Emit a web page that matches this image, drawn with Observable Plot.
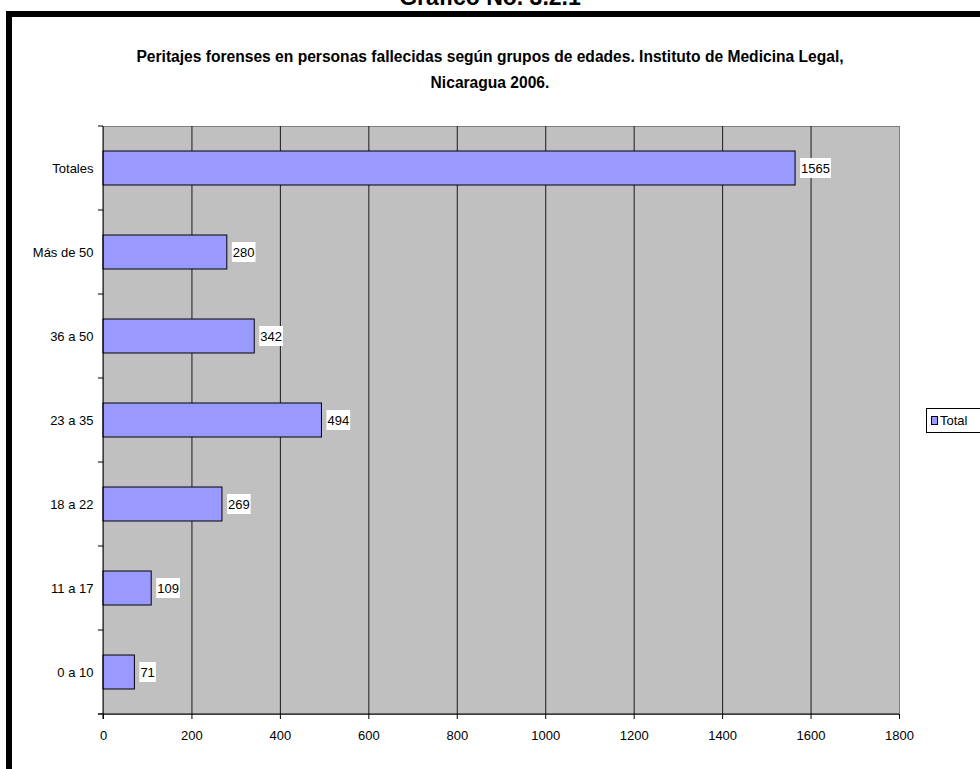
<!DOCTYPE html>
<html>
<head>
<meta charset="utf-8">
<script src="https://cdn.jsdelivr.net/npm/d3@7"></script>
<script src="https://cdn.jsdelivr.net/npm/@observablehq/plot@0.6"></script>
<style>
  html, body { margin: 0; padding: 0; background: white; }
  svg { display: block; }
</style>
</head>
<body>
<div id="chart"></div>
<script>
const categories = ["Totales", "Más de 50", "36 a 50", "23 a 35", "18 a 22", "11 a 17", "0 a 10"];
const values = [1565, 280, 342, 494, 269, 109, 71];
const xTicks = [0, 200, 400, 600, 800, 1000, 1200, 1400, 1600, 1800];
const seriesName = "Total";
const pageTitle = "Gráfico No. 3.2.1";
const titleLines = [
  "Peritajes forenses en personas fallecidas según grupos de edades. Instituto de Medicina Legal,",
  "Nicaragua 2006."
];

const data = categories.map((c, i) => ({cat: c, value: values[i]}));
const FONT = "'Liberation Sans', Arial, sans-serif";
const LABEL_SIZE = 13;

// band-boundary tick marks on the category axis (Excel style)
function bandTicks(index, scales, vals, dims) {
  const y = scales.y;
  const step = y.step(), bw = y.bandwidth();
  const half = (step - bw) / 2;
  const pos = categories.map(c => y(c) - half);
  pos.push(y(categories[categories.length - 1]) + bw + half);
  const g = d3.create("svg:g");
  g.selectAll("line").data(pos).join("line")
    .attr("x1", dims.marginLeft - 5).attr("x2", dims.marginLeft)
    .attr("y1", d => d).attr("y2", d => d)
    .attr("stroke", "#000").attr("stroke-width", 1);
  return g.node();
}

// white label boxes + value text (Excel data labels)
const measureCtx = document.createElement("canvas").getContext("2d");
measureCtx.font = `${LABEL_SIZE}px 'Liberation Sans', Arial, sans-serif`;
function valueLabels(index, scales, vals, dims) {
  const x = scales.x, y = scales.y;
  const bw = y.bandwidth();
  const g = d3.create("svg:g").attr("font-family", FONT).attr("font-size", LABEL_SIZE);
  data.forEach(d => {
    const s = String(d.value);
    const w = measureCtx.measureText(s).width;
    const x0 = x(d.value) + 5;
    const cy = y(d.cat) + bw / 2;
    g.append("rect").attr("x", x0).attr("y", cy - 10).attr("width", w + 2).attr("height", 20).attr("fill", "white");
    g.append("text").attr("x", x0 + 1).attr("y", cy).attr("dy", "0.35em").attr("text-anchor", "start").attr("fill", "#000").text(s);
  });
  return g.node();
}

const chart = Plot.plot({
  width: 980,
  height: 769,
  marginLeft: 103,
  marginRight: 81,
  marginTop: 126,
  marginBottom: 55,
  style: {fontFamily: FONT, fontSize: "13px", background: "white", color: "black"},
  x: {domain: [0, 1800], ticks: xTicks},
  y: {domain: categories, paddingInner: 0.6, paddingOuter: 0.3},
  marks: [
    Plot.frame({fill: "#c0c0c0", stroke: "#808080"}),
    Plot.ruleX(xTicks.slice(1, -1), {stroke: "#1a1a1a", strokeWidth: 1}),
    Plot.barX(data, {x: "value", y: "cat", fill: "#9999ff", stroke: "#000", strokeWidth: 1}),
    valueLabels,
    Plot.axisX({ticks: xTicks, tickSize: 5, tickPadding: 11, tickFormat: d => String(d), label: null, fontSize: 13}),
    Plot.axisY({tickSize: 0, tickPadding: 10, label: null, fontSize: 13}),
    bandTicks,
  ]
});

document.getElementById("chart").appendChild(chart);
const svg = d3.select(chart);

// axis lines (left & bottom)
const W = 980, H = 769, mL = 103, mR = 81, mT = 126, mB = 55;
svg.append("line").attr("x1", mL).attr("x2", mL).attr("y1", mT).attr("y2", H - mB + 5).attr("stroke", "#000");
svg.append("line").attr("x1", mL - 5).attr("x2", W - mR).attr("y1", H - mB).attr("y2", H - mB).attr("stroke", "#000");

// outer black border (top and left)
svg.append("path").attr("d", "M9,775 V14 H990").attr("fill", "none").attr("stroke", "#000").attr("stroke-width", 6);

// page title (cut at top)
svg.append("text").attr("x", 490).attr("y", 5).attr("text-anchor", "middle")
  .attr("font-weight", "bold").attr("font-size", 23).attr("font-family", FONT).text(pageTitle);

// chart title
titleLines.forEach((t, i) => {
  svg.append("text").attr("x", 490).attr("y", 62 + i * 26).attr("text-anchor", "middle")
    .attr("font-weight", "bold").attr("font-size", 15.6).attr("font-family", FONT).text(t);
});

// legend
const lg = svg.append("g");
lg.append("rect").attr("x", 926.5).attr("y", 408.5).attr("width", 60).attr("height", 24).attr("fill", "white").attr("stroke", "#000");
lg.append("rect").attr("x", 931.5).attr("y", 416.5).attr("width", 6).attr("height", 8).attr("fill", "#9999ff").attr("stroke", "#000");
lg.append("text").attr("x", 940).attr("y", 425).attr("text-anchor", "start").attr("font-size", 13).attr("font-family", FONT).text(seriesName);
</script>
</body>
</html>
